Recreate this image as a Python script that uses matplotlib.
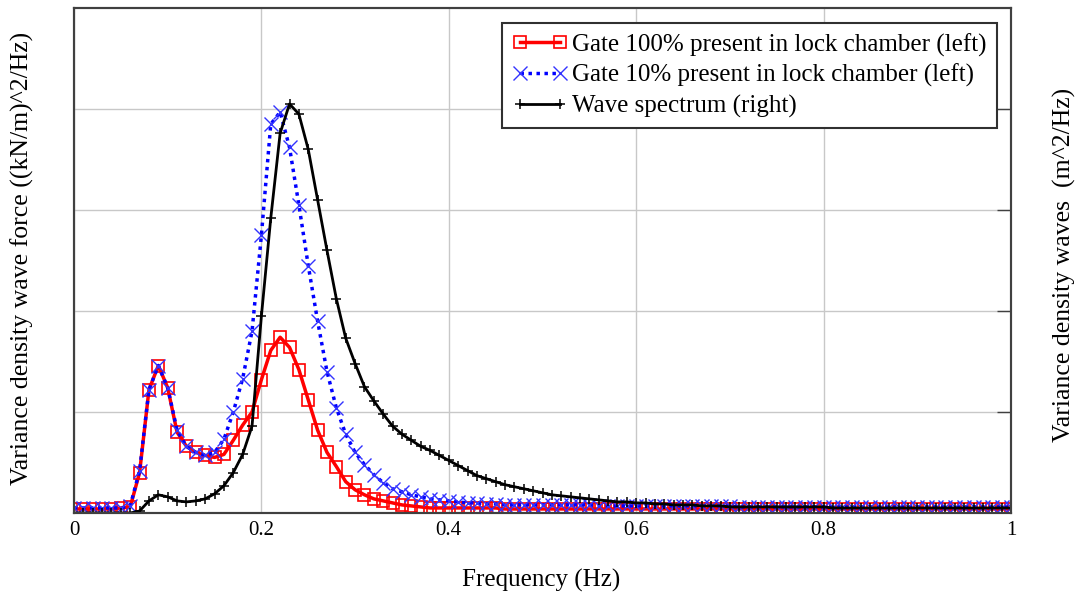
import matplotlib
matplotlib.use("Agg")
import matplotlib.pyplot as plt
import numpy as np

plt.rcParams['font.family'] = ['Liberation Serif', 'DejaVu Serif']

# frequency grid (Hz)
freq = [0.00, 0.01, 0.02, 0.03, 0.04, 0.05, 0.06, 0.07, 0.08, 0.09,
        0.10, 0.11, 0.12, 0.13, 0.14, 0.15, 0.16, 0.17, 0.18, 0.19,
        0.20, 0.21, 0.22, 0.23, 0.24, 0.25, 0.26, 0.27, 0.28, 0.29,
        0.30, 0.31, 0.32, 0.33, 0.34, 0.35, 0.36, 0.37, 0.38, 0.39,
        0.40, 0.41, 0.42, 0.43, 0.44, 0.45, 0.46, 0.47, 0.48, 0.49,
        0.50, 0.51, 0.52, 0.53, 0.54, 0.55, 0.56, 0.57, 0.58, 0.59,
        0.60, 0.61, 0.62, 0.63, 0.64, 0.65, 0.66, 0.67, 0.68, 0.69,
        0.70, 0.71, 0.72, 0.73, 0.74, 0.75, 0.76, 0.77, 0.78, 0.79,
        0.80, 0.81, 0.82, 0.83, 0.84, 0.85, 0.86, 0.87, 0.88, 0.89,
        0.90, 0.91, 0.92, 0.93, 0.94, 0.95, 0.96, 0.97, 0.98, 0.99,
        1.00]

# Gate 100% present (left axis, arbitrary units)
gate100 = [0.04, 0.04, 0.04, 0.04, 0.04, 0.05, 0.06, 0.40, 1.22, 1.46,
           1.24, 0.80, 0.66, 0.60, 0.57, 0.55, 0.58, 0.72, 0.87, 1.00,
           1.32, 1.61, 1.74, 1.64, 1.42, 1.12, 0.82, 0.60, 0.46, 0.31,
           0.23, 0.18, 0.14, 0.12, 0.10, 0.08, 0.07, 0.06, 0.05, 0.05,
           0.05, 0.05, 0.05, 0.05, 0.05, 0.05, 0.04, 0.04, 0.04, 0.04,
           0.04, 0.04, 0.04, 0.04, 0.04, 0.04, 0.04, 0.04, 0.04, 0.04,
           0.04, 0.04, 0.04, 0.04, 0.04, 0.04, 0.04, 0.04, 0.04, 0.04,
           0.04, 0.04, 0.04, 0.04, 0.04, 0.04, 0.04, 0.04, 0.04, 0.04,
           0.04, 0.04, 0.04, 0.04, 0.04, 0.04, 0.04, 0.04, 0.04, 0.04,
           0.04, 0.04, 0.04, 0.04, 0.04, 0.04, 0.04, 0.04, 0.04, 0.04,
           0.04]

# Gate 10% present (left axis)
gate10 = [0.05, 0.05, 0.05, 0.05, 0.05, 0.05, 0.07, 0.42, 1.22, 1.46,
          1.24, 0.82, 0.66, 0.60, 0.57, 0.60, 0.73, 1.00, 1.33, 1.80,
          2.75, 3.85, 3.97, 3.62, 3.05, 2.45, 1.90, 1.40, 1.04, 0.78,
          0.60, 0.48, 0.38, 0.30, 0.24, 0.21, 0.18, 0.16, 0.14, 0.13,
          0.12, 0.11, 0.10, 0.10, 0.09, 0.09, 0.08, 0.08, 0.08, 0.08,
          0.08, 0.08, 0.08, 0.08, 0.08, 0.08, 0.07, 0.07, 0.07, 0.07,
          0.07, 0.07, 0.07, 0.07, 0.07, 0.07, 0.07, 0.07, 0.07, 0.07,
          0.07, 0.06, 0.06, 0.06, 0.06, 0.06, 0.06, 0.06, 0.06, 0.06,
          0.06, 0.06, 0.06, 0.06, 0.06, 0.06, 0.06, 0.06, 0.06, 0.06,
          0.06, 0.06, 0.06, 0.06, 0.06, 0.06, 0.06, 0.06, 0.06, 0.06,
          0.06]

# Wave spectrum (right axis)
wave = [0.00, 0.00, 0.00, 0.00, 0.00, 0.00, 0.00, 0.02, 0.12, 0.18,
        0.16, 0.12, 0.11, 0.12, 0.14, 0.19, 0.27, 0.40, 0.58, 0.86,
        1.95, 2.92, 3.76, 4.05, 3.95, 3.60, 3.10, 2.60, 2.12, 1.73,
        1.48, 1.25, 1.11, 0.98, 0.86, 0.78, 0.72, 0.66, 0.62, 0.57,
        0.52, 0.47, 0.42, 0.37, 0.34, 0.31, 0.28, 0.26, 0.24, 0.22,
        0.20, 0.18, 0.17, 0.16, 0.15, 0.14, 0.13, 0.12, 0.11, 0.11,
        0.10, 0.10, 0.09, 0.09, 0.08, 0.08, 0.08, 0.07, 0.07, 0.07,
        0.06, 0.06, 0.06, 0.06, 0.06, 0.06, 0.06, 0.06, 0.06, 0.06,
        0.06, 0.05, 0.05, 0.05, 0.05, 0.05, 0.05, 0.05, 0.05, 0.05,
        0.05, 0.05, 0.05, 0.05, 0.05, 0.05, 0.05, 0.05, 0.05, 0.05,
        0.05]

xticks = [0, 0.2, 0.4, 0.6, 0.8, 1.0]
xticklabels = ['0', '0.2', '0.4', '0.6', '0.8', '1']
labels = ['Gate 100% present in lock chamber (left)',
          'Gate 10% present in lock chamber (left)',
          'Wave spectrum (right)']

fig = plt.figure(figsize=(10.78, 6.01), dpi=100)
ax = fig.add_axes([74 / 1078, 1 - 513 / 601, 937 / 1078, 505 / 601])
ax2 = ax.twinx()

l1, = ax.plot(freq, gate100, color='#ff0000', lw=2.5, marker='s', ms=8,
              mfc='none', mec='#ff0000', mew=1.2)
l2, = ax.plot(freq, gate10, color='#0000ff', lw=2.5, ls=(0, (1, 1.3)),
              marker='x', ms=10, mec='#3333ff', mew=1.0)
l3, = ax2.plot(freq, wave, color='black', lw=2, marker='+', ms=7, mew=1.1)

for a in (ax, ax2):
    a.set_xlim(0, 1)
    a.set_ylim(0, 5)

ax.set_xticks(xticks)
ax.set_xticklabels(xticklabels, fontsize=15)
ax.set_yticks([1, 2, 3, 4])
ax.set_yticklabels([])
ax.tick_params(axis='x', length=0, pad=6)
ax.tick_params(axis='y', length=0)
ax.grid(True, color='#c8c8c8', lw=1)
ax.set_axisbelow(True)

ax2.set_yticks([1, 2, 3, 4])
ax2.set_yticklabels([])
ax2.tick_params(axis='y', direction='in', length=10, width=1, color='#404040')

for a in (ax, ax2):
    for s in a.spines.values():
        s.set_color('#404040')
        s.set_linewidth(1.5)

fig.text(541 / 1078, 1 - 580 / 601, 'Frequency (Hz)', ha='center', va='center',
         fontsize=18)
fig.text(22 / 1078, 1 - 258 / 601, 'Variance density wave force ((kN/m)^2/Hz)',
         rotation=90, ha='center', va='center', fontsize=18.5)
fig.text(1064 / 1078, 1 - 265 / 601, 'Variance density waves  (m^2/Hz)',
         rotation=90, ha='center', va='center', fontsize=18.5)

leg = ax2.legend([l1, l2, l3], labels, loc='upper right',
                 bbox_to_anchor=(0.985, 0.97), borderaxespad=0,
                 fontsize=18, numpoints=2, handlelength=2.2,
                 handletextpad=0.2, borderpad=0.4, labelspacing=0.3,
                 fancybox=False, framealpha=1)
leg.get_frame().set_edgecolor('#303030')
leg.get_frame().set_linewidth(1.5)

fig.savefig('out.png', dpi=100)
